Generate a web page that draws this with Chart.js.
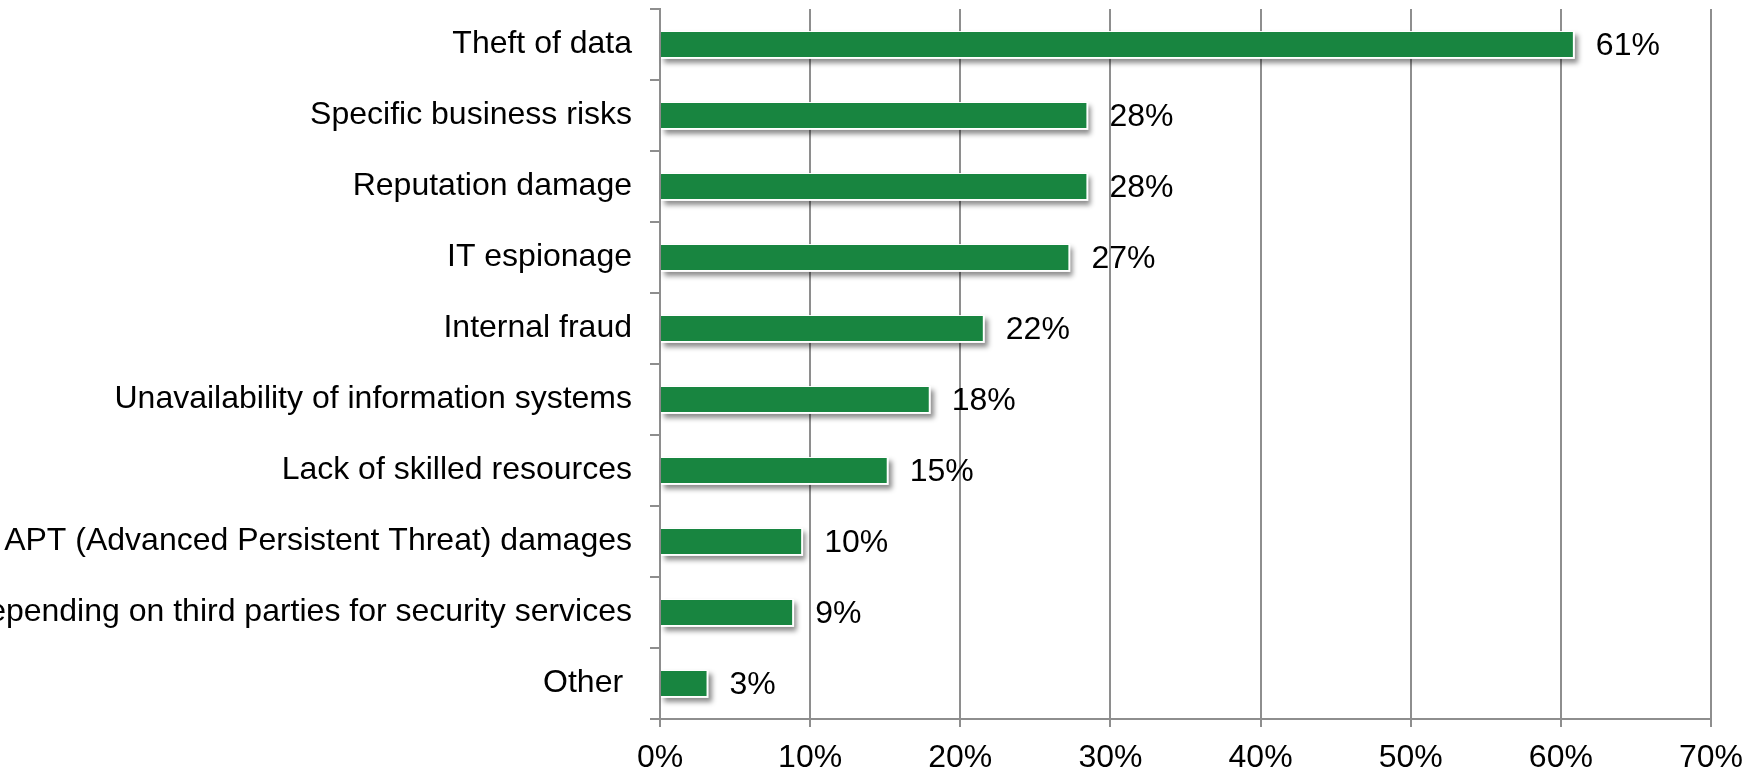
<!DOCTYPE html>
<html>
<head>
<meta charset="utf-8">
<script src="https://cdn.jsdelivr.net/npm/chart.js@4"></script>
<style>
  html, body { margin: 0; padding: 0; background: #fff; }
  #wrap { width: 1762px; height: 774px; }
</style>
</head>
<body>
<div id="wrap"><canvas id="chart"></canvas></div>
<script>
const categories = [
    'Theft of data',
    'Specific business risks',
    'Reputation damage',
    'IT espionage',
    'Internal fraud',
    'Unavailability of information systems',
    'Lack of skilled resources',
    'APT (Advanced Persistent Threat) damages',
    'Depending on third parties for security services',
    'Other '
];
const values = [60.8, 28.4, 28.4, 27.2, 21.5, 17.9, 15.1, 9.4, 8.8, 3.1];
const valueLabels = ['61%', '28%', '28%', '27%', '22%', '18%', '15%', '10%', '9%', '3%'];
const xTicks = [0, 10, 20, 30, 40, 50, 60, 70];

const fontFamily = '"Liberation Sans", Arial, sans-serif';
const fontSize = 32;
const gridColor = '#8e8e8e';

// white edge + soft drop shadow behind each bar
const barShadow = {
    id: 'barShadow',
    beforeDatasetsDraw(chart) {
        const ctx = chart.ctx;
        const meta = chart.getDatasetMeta(0);
        ctx.save();
        ctx.shadowColor = 'rgba(0,0,0,0.45)';
        ctx.shadowBlur = 5;
        ctx.shadowOffsetX = 3;
        ctx.shadowOffsetY = 4;
        ctx.fillStyle = '#ffffff';
        meta.data.forEach((bar) => {
            const { x, y, base, height } = bar.getProps(['x', 'y', 'base', 'height']);
            ctx.fillRect(base, y - height / 2 - 1, x - base + 2, height + 3);
        });
        ctx.restore();
    }
};

// value text to the right of each bar
const valueText = {
    id: 'valueText',
    afterDatasetsDraw(chart) {
        const ctx = chart.ctx;
        const meta = chart.getDatasetMeta(0);
        ctx.save();
        ctx.font = fontSize + 'px ' + fontFamily;
        ctx.fillStyle = '#000';
        ctx.textAlign = 'left';
        ctx.textBaseline = 'middle';
        meta.data.forEach((bar, i) => {
            ctx.fillText(valueLabels[i], bar.x + 23, bar.y + 2);
        });
        ctx.restore();
    }
};

new Chart(document.getElementById('chart'), {
    type: 'bar',
    data: {
        labels: categories,
        datasets: [{
            data: values,
            backgroundColor: '#188540',
            borderWidth: 0,
            barPercentage: 0.35,
            categoryPercentage: 1
        }]
    },
    options: {
        indexAxis: 'y',
        responsive: true,
        maintainAspectRatio: false,
        animation: false,
        layout: { padding: { top: 9, right: 51, bottom: 0, left: 0 } },
        plugins: {
            legend: { display: false },
            tooltip: { enabled: false }
        },
        scales: {
            x: {
                min: 0,
                max: 70,
                afterBuildTicks: (scale) => {
                    scale.ticks = xTicks.map(v => ({ value: v }));
                },
                afterFit: (scale) => { scale.height = 55; },
                ticks: {
                    callback: (v) => v + '%',
                    color: '#000',
                    font: { family: fontFamily, size: fontSize },
                    padding: 12,
                    maxRotation: 0
                },
                grid: {
                    color: gridColor,
                    lineWidth: 2,
                    tickLength: 8,
                    drawOnChartArea: true
                },
                border: { color: gridColor, width: 2 }
            },
            y: {
                afterFit: (scale) => {
                    scale.width = 660;
                    scale.paddingTop = 0;
                    scale.paddingBottom = 0;
                },
                ticks: {
                    autoSkip: false,
                    color: '#000',
                    font: { family: fontFamily, size: fontSize },
                    padding: 18
                },
                grid: {
                    offset: true,
                    drawOnChartArea: false,
                    color: gridColor,
                    lineWidth: 2,
                    tickLength: 10
                },
                border: { color: gridColor, width: 2 }
            }
        }
    },
    plugins: [barShadow, valueText]
});
</script>
</body>
</html>
